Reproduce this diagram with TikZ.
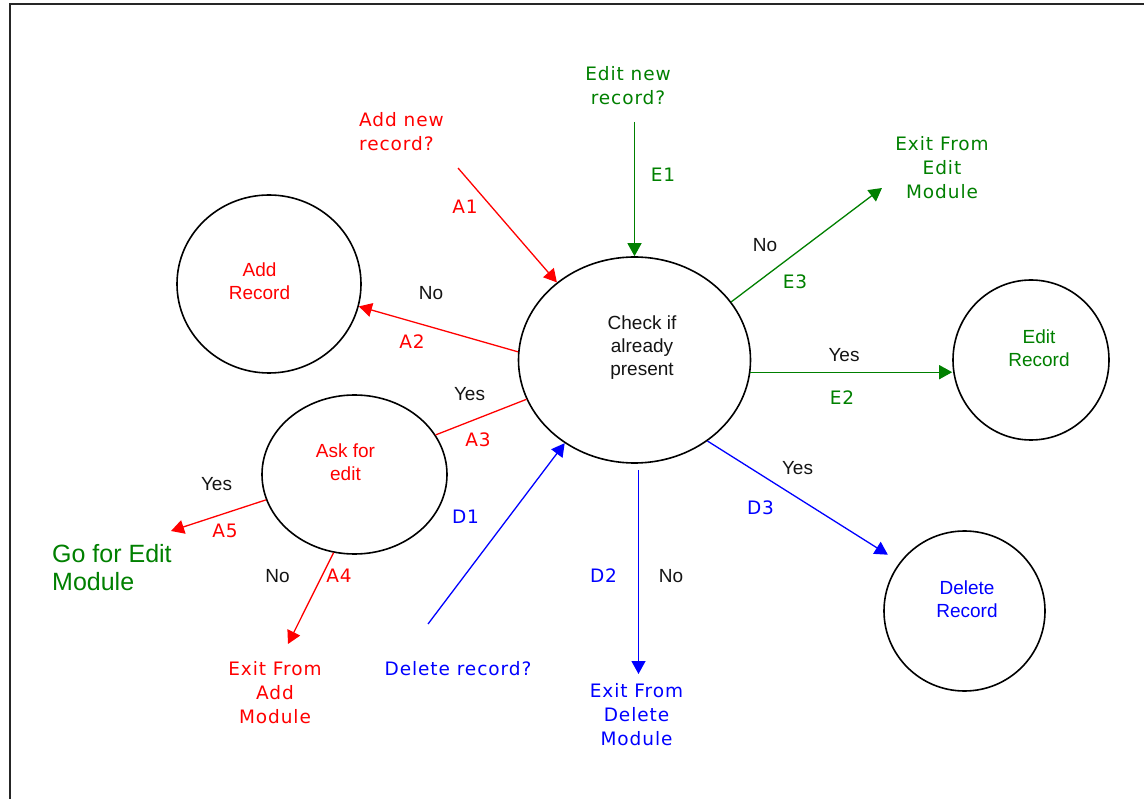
\documentclass[tikz,border=0pt]{standalone}
\usepackage{fontspec}
\setmainfont{Liberation Sans}
\newfontfamily\vfont[LetterSpace=5]{DejaVu Sans}
\usetikzlibrary{shapes.geometric,arrows.meta}
\definecolor{fred}{RGB}{255,0,0}
\definecolor{fgreen}{RGB}{0,128,0}
\definecolor{fblue}{RGB}{0,0,255}
\definecolor{ftext}{RGB}{20,20,20}
\begin{document}
\begin{tikzpicture}[
  x=1pt, y=-1pt,
  bubble/.style={ellipse, draw=black, line width=1.6pt, inner sep=0pt},
  vtxt/.style={font=\vfont\fontsize{18.5}{24}\selectfont, inner sep=0pt, align=center},
  atxt/.style={font=\fontsize{19}{23}\selectfont, inner sep=0pt, align=center},
  bigtxt/.style={font=\fontsize{25}{28}\selectfont, inner sep=0pt, align=left},
  link/.style={line width=1.3pt},
  tipped/.style={-{Triangle[length=13pt,width=14pt]}},
  ans/.style={atxt, text=ftext}
]
\useasboundingbox (0,0) rectangle (1144,799);
\clip (0,0) rectangle (1144,799);
\fill[white] (0,0) rectangle (1144,799);

% outer frame
\draw[line width=2pt, black!85] (10,4.5) rectangle (1170,830);

% ellipses
\node[bubble, minimum width=232pt, minimum height=206pt] (check) at (634.5,360) {};
\node[bubble, minimum width=184pt, minimum height=178pt] (addrec) at (269,284) {};
\node[bubble, minimum width=185pt, minimum height=159pt] (ask) at (354.5,474.5) {};
\node[bubble, minimum width=156pt, minimum height=160pt] (editrec) at (1031,360) {};
\node[bubble, minimum width=161pt, minimum height=160pt] (delrec) at (964.5,611) {};

% ellipse captions
\node[atxt, text=ftext] (checktxt) at (642,348) {Check if\\already\\present};
\node[atxt, text=fred] (addrectxt) at (259.5,281) {Add\\Record};
\node[atxt, text=fred] (asktxt) at (345.5,462) {Ask for\\edit};
\node[atxt, text=fgreen] (editrectxt) at (1039,348.5) {Edit\\Record};
\node[atxt, text=fblue] (delrectxt) at (967,599.5) {Delete\\Record};

% entry and exit texts
\node[vtxt, text=fred, anchor=west, align=left] (addq) at (359,132) {Add new\\record?};
\node[vtxt, text=fgreen] (editq) at (628,86) {Edit new\\record?};
\node[vtxt, text=fgreen] (exitedit) at (942,167.5) {Exit From\\Edit\\Module};
\node[vtxt, text=fred] (exitadd) at (275,692.5) {Exit From\\Add\\Module};
\node[vtxt, text=fblue] (delq) at (458,668.5) {Delete record?};
\node[vtxt, text=fblue] (exitdel) at (636.5,715) {Exit From\\Delete\\Module};
\node[bigtxt, text=fgreen, anchor=west] (goedit) at (52,568) {Go for Edit\\Module};

% free ends of connectors
\coordinate (a1s) at (458,168);
\coordinate (e1s) at (634.5,122);
\coordinate (e3e) at (882,188);
\coordinate (d1s) at (428,624);
\coordinate (d2e) at (638.5,674);
\coordinate (a5e) at (171,531);
\coordinate (a4e) at (288,644);

% add branch
\draw[link, fred, tipped] (a1s) -- (check.135);
\draw[link, fred, tipped] (check.176) -- (addrec.-14);
\draw[link, fred] (check.200) -- (ask.26);
\draw[link, fred, tipped] (ask.196) -- (a5e);
\draw[link, fred, tipped] (ask.255) -- (a4e);

% edit branch
\draw[link, fgreen, tipped] (e1s) -- (check.north);
\draw[link, fgreen, tipped] (check.31) -- (e3e);
\draw[link, fgreen, tipped] (check.-6) -- (check.-6 -| editrec.west);

% delete branch
\draw[link, fblue, tipped] (d1s) -- (check.230);
\draw[link, fblue, tipped, shorten <=6pt] (d2e |- check.south) -- (d2e);
\draw[link, fblue, tipped, shorten >=14pt] (check.-48) -- (delrec.143);

% connector labels
\node[vtxt, text=fred] (la1) at (465,207) {A1};
\node[vtxt, text=fred] (la2) at (412,341.5) {A2};
\node[vtxt, text=fred] (la3) at (478,440) {A3};
\node[vtxt, text=fred] (la4) at (339,576) {A4};
\node[vtxt, text=fred] (la5) at (225,531) {A5};
\node[vtxt, text=fgreen] (le1) at (663,175) {E1};
\node[vtxt, text=fgreen] (le2) at (842,397.5) {E2};
\node[vtxt, text=fgreen] (le3) at (795,282) {E3};
\node[vtxt, text=fblue] (ld1) at (465.5,517) {D1};
\node[vtxt, text=fblue] (ld2) at (603.5,576) {D2};
\node[vtxt, text=fblue] (ld3) at (760.5,508) {D3};

% answers
\node[ans] (noa2) at (431,293) {No};
\node[ans] (yesa3) at (469.5,394) {Yes};
\node[ans] (yesa5) at (216.5,484.5) {Yes};
\node[ans] (noa4) at (277.5,576.5) {No};
\node[ans] (noe3) at (765,245) {No};
\node[ans] (yese2) at (844,355) {Yes};
\node[ans] (nod2) at (671,576.5) {No};
\node[ans] (yesd3) at (797.5,468.5) {Yes};
\end{tikzpicture}
\end{document}
